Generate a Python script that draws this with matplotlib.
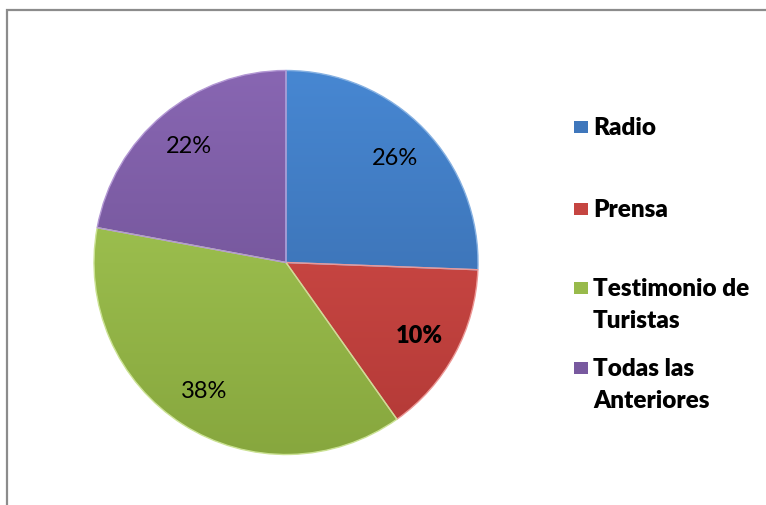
import numpy as np
import matplotlib.pyplot as plt
from matplotlib.patches import Rectangle
from matplotlib.colors import to_rgb

categories = ['Radio', 'Prensa', 'Testimonio de\nTuristas', 'Todas las\nAnteriores']
values = [25.6, 14.6, 37.7, 22.1]
pct_labels = ['26%', '10%', '38%', '22%']
top_colors = ['#4787d2', '#d9504c', '#a9cd58', '#8866b2']
bottom_colors = ['#3667a5', '#b23936', '#87a73e', '#684c8c']
edge_colors = ['#86b1e2', '#ec9795', '#cbe294', '#b398d4']

plt.rcParams['font.family'] = ['Lato', 'DejaVu Sans']

W, H = 766, 506
fig = plt.figure(figsize=(W / 100, H / 100), dpi=100)
ax = fig.add_axes([0, 0, 1, 1])

cx, cy, r = 286, H - 263.5, 192
mid_colors = [tuple((np.array(to_rgb(a)) + np.array(to_rgb(b))) / 2)
              for a, b in zip(top_colors, bottom_colors)]
wedges, _ = ax.pie(values, colors=mid_colors, startangle=90, counterclock=False,
                   center=(cx, cy), radius=r, frame=True,
                   wedgeprops=dict(linewidth=1.0))
ax.set_xlim(0, W)
ax.set_ylim(0, H)
ax.set_aspect('equal')
ax.axis('off')

# vertical shading inside each slice
t = np.linspace(0, 1, 256)[:, None, None]
for w, c1, c2, ec in zip(wedges, top_colors, bottom_colors, edge_colors):
    grad = np.array(to_rgb(c2)) * t + np.array(to_rgb(c1)) * (1 - t)
    grad = np.repeat(grad, 2, axis=1)
    im = ax.imshow(grad, extent=(cx - r, cx + r, cy - r, cy + r),
                   origin='upper', aspect='auto', zorder=2)
    im.set_clip_path(w)
    w.set_edgecolor(ec)
    w.set_facecolor('none')
    w.set_zorder(3)
ax.set_xlim(0, W)
ax.set_ylim(0, H)

# outer frame (cut off at right and bottom)
ax.add_patch(Rectangle((7, -20), W + 20, H - 11 + 20, fill=False,
                       edgecolor='#8c8c8c', linewidth=1.6))

for w, lab in zip(wedges, pct_labels):
    mid = np.deg2rad((w.theta1 + w.theta2) / 2)
    x = cx + 0.79 * r * np.cos(mid)
    y = cy + 0.79 * r * np.sin(mid)
    ax.text(x, y, lab, ha='center', va='center', fontsize=17, zorder=4,
            fontweight='heavy' if lab == '10%' else 'normal', color='black')

# legend
legend_y = [128, 210, 305, 385]
for cat, col, ly in zip(categories, mid_colors, legend_y):
    yy = H - ly
    nlines = cat.count('\n') + 1
    marker_y = yy + (nlines - 1) * 16.5
    ax.add_patch(Rectangle((574, marker_y - 6), 14, 12, facecolor=col,
                           edgecolor='none'))
    ax.text(593, yy, cat, ha='left', va='center', fontsize=17.5,
            fontweight='heavy', color='black', linespacing=1.5)

plt.savefig('out.png', dpi=100)
